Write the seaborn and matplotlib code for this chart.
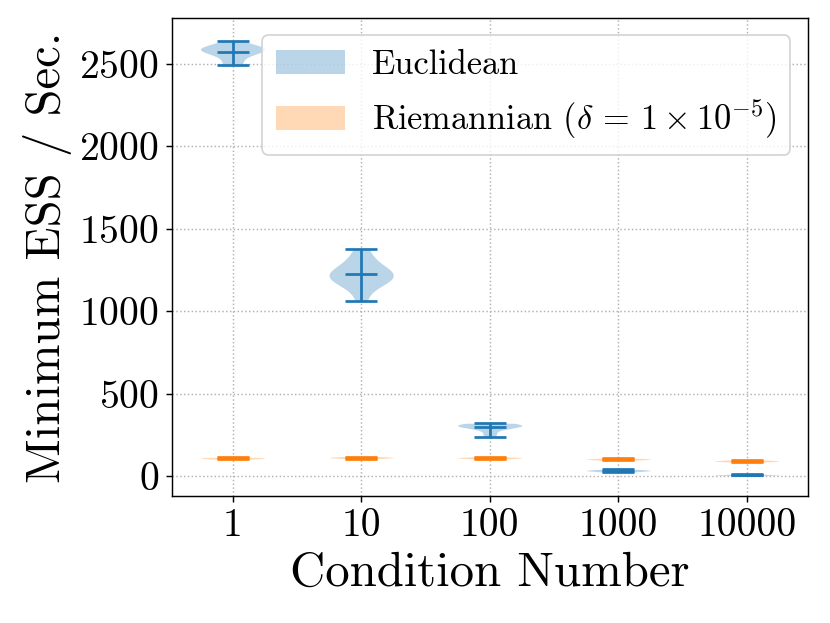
import matplotlib
matplotlib.use("Agg")
import matplotlib.pyplot as plt
import matplotlib.patches as mpatches
import numpy as np
import pandas as pd
import seaborn as sns

# ---- data ----
conditions = ["1", "10", "100", "1000", "10000"]

euclid_1 = [2495, 2505, 2540, 2560, 2570, 2580, 2585, 2590, 2595, 2600, 2605, 2615, 2640]
euclid_10 = [1062, 1150, 1170, 1195, 1205, 1215, 1225, 1235, 1255, 1280, 1320, 1377]
euclid_100 = [239, 262, 290, 295, 300, 305, 308, 310, 312, 315, 320]
euclid_1000 = [23, 28, 31, 33, 35, 37, 41]
euclid_10000 = [3, 5, 6, 7, 8, 10]

riem_1 = [102, 105, 107, 109, 111, 113]
riem_10 = [106, 109, 111, 113, 115, 118]
riem_100 = [104, 107, 109, 111, 113, 116]
riem_1000 = [96, 99, 101, 103, 105, 108]
riem_10000 = [85, 88, 90, 92, 94, 97]

series_names = ["Euclidean", r"Riemannian ($\delta\,=\,1 \times 10^{-5}$)"]
euclid = [euclid_1, euclid_10, euclid_100, euclid_1000, euclid_10000]
riem = [riem_1, riem_10, riem_100, riem_1000, riem_10000]

rows = []
for name, groups in zip(series_names, [euclid, riem]):
    for cond, vals in zip(conditions, groups):
        for v in vals:
            rows.append({"cond": cond, "method": name, "value": v})
df = pd.DataFrame(rows)

# ---- style ----
plt.rcParams["font.family"] = "serif"
plt.rcParams["font.serif"] = ["cmr10"]
plt.rcParams["mathtext.fontset"] = "cm"
plt.rcParams["axes.formatter.use_mathtext"] = True
plt.rcParams["axes.unicode_minus"] = False

fig, ax = plt.subplots(figsize=(830 / 130, 623 / 130), dpi=130)
fig.subplots_adjust(left=0.207, right=0.973, bottom=0.204, top=0.971)

colors = ["#1f77b4", "#ff7f0e"]
sns.violinplot(data=df, x="cond", y="value", hue="method", order=conditions,
               hue_order=series_names, dodge=False, inner=None, cut=0,
               density_norm="width", width=0.5, saturation=1, linewidth=0,
               palette=colors, alpha=0.3, legend=False, ax=ax)

# extrema / mean bars
for groups, col in zip([euclid, riem], colors):
    for i, vals in enumerate(groups):
        vals = np.asarray(vals, dtype=float)
        lo, hi, mu = vals.min(), vals.max(), vals.mean()
        ax.vlines(i, lo, hi, color=col, linewidth=1.5, zorder=3)
        ax.hlines([lo, hi, mu], i - 0.125, i + 0.125, color=col, linewidth=1.5, zorder=3)

ax.set_xlim(-0.473, 4.473)
ax.set_ylim(-121, 2779)
ax.set_yticks([0, 500, 1000, 1500, 2000, 2500])
ax.grid(True, linestyle=":", color="#b0b0b0", linewidth=0.8)
ax.tick_params(axis="both", labelsize=22)
ax.set_xlabel("Condition Number", fontsize=27)
ax.set_ylabel("Minimum ESS / Sec.", fontsize=27)
for s in ax.spines.values():
    s.set_color("black")

handles = [mpatches.Patch(facecolor=c, alpha=0.3, edgecolor="none") for c in colors]
ax.legend(handles, series_names, loc="upper right", fontsize=19)

fig.savefig("out.png", dpi=130)
